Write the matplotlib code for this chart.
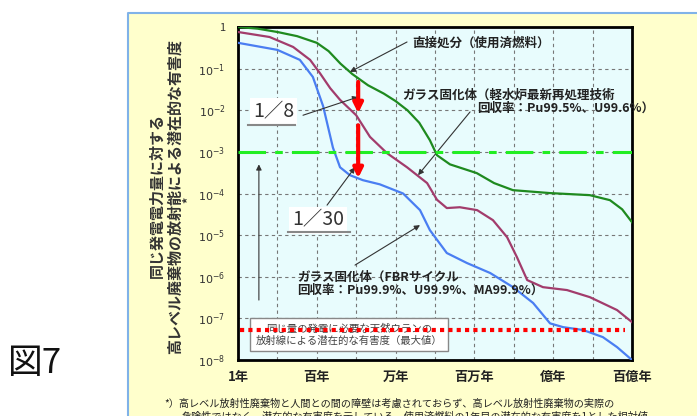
import numpy as np
import matplotlib.pyplot as plt
from matplotlib.lines import Line2D
from matplotlib.patches import Rectangle

plt.rcParams['font.family'] = ['Noto Sans CJK JP', 'DejaVu Sans']

# log10(years) / log10(relative potential harm)
direct_t = [0, 0.5, 1.0, 1.5, 2.0, 2.3, 2.6, 2.9, 3.3, 3.7, 4.0, 4.3, 4.6, 4.87, 5.05,
            5.38, 6.06, 6.5, 6.98, 7.92, 8.93, 9.44, 9.75, 10]
direct_h = [0, -0.04, -0.12, -0.22, -0.38, -0.58, -0.88, -1.13, -1.4, -1.6, -1.78, -2.0,
            -2.3, -2.72, -3.08, -3.3, -3.51, -3.75, -3.92, -3.99, -4.04, -4.16,
            -4.38, -4.69]

lwr_t = [0, 0.8, 1.4, 1.83, 2.08, 2.34, 2.59, 3.0, 3.35, 3.78, 4.29, 4.8, 5.05,
         5.3, 5.63, 6.07, 6.47, 6.83, 7.08, 7.34, 7.74, 8.35, 8.93, 9.62, 10]
lwr_h = [-0.12, -0.24, -0.48, -0.79, -1.11, -1.47, -1.75, -2.12, -2.64, -3.03,
         -3.37, -3.75, -4.15, -4.35, -4.33, -4.40, -4.64, -5.05, -5.53, -6.08,
         -6.25, -6.32, -6.49, -6.80, -7.09]

fbr_t = [0, 1.0, 1.57, 1.9, 2.16, 2.41, 2.59, 2.84, 3.17, 3.6, 4.19, 4.62, 4.87,
         5.3, 5.81, 6.4, 6.98, 7.49, 7.92, 8.25, 8.76, 9.26, 9.62, 10]
fbr_h = [-0.38, -0.55, -0.79, -1.2, -1.9, -2.9, -3.37, -3.56, -3.68, -3.78, -4.0,
         -4.4, -4.88, -5.43, -5.67, -5.91, -6.25, -6.63, -7.12, -7.21, -7.28,
         -7.45, -7.69, -8.0]

limit_level = 1e-3       # green dash-dot reference
uranium_level = 5.2e-8   # natural uranium (max)

x_exp = list(range(11))
x_labels = ['1年', '', '百年', '', '万年', '', '百万年', '', '億年', '', '百億年']
y_exp = list(range(-8, 1))
y_labels = ['$10^{%d}$' % e if e else '1' for e in y_exp]

W, H = 697, 416
fig = plt.figure(figsize=(W / 100, H / 100), dpi=100)
fig.patch.set_facecolor('white')


def fx(px):
    return px / W


def fy(py):
    return 1 - py / H


def p(e):
    return 10.0 ** np.asarray(e)


# yellow panel with blue border on top/left
fig.add_artist(Rectangle((fx(128), 0), 1 - fx(128), fy(13), transform=fig.transFigure,
                         facecolor='#ffffcc', edgecolor='none', zorder=0))
fig.add_artist(Line2D([fx(128), fx(128), 1], [0, fy(13), fy(13)],
                      transform=fig.transFigure, color='#80b2e8', lw=1.5))

ax = fig.add_axes([fx(238), fy(360), fx(632) - fx(238), fy(27) - fy(360)])
ax.set_facecolor('#e8fcfd')
ax.set_xscale('log')
ax.set_yscale('log')
ax.set_xlim(1, 1e10)
ax.set_ylim(1e-8, 1)
ax.set_xticks(p(x_exp), labels=x_labels)
ax.set_yticks(p(y_exp), labels=y_labels)
ax.xaxis.set_minor_locator(plt.NullLocator())
ax.yaxis.set_minor_locator(plt.NullLocator())
ax.tick_params(length=0)
ax.tick_params(axis='x', pad=7, labelsize=9.5, labelcolor='#222')
ax.tick_params(axis='y', pad=9, labelsize=8, labelcolor='#333')
for lab in ax.get_xticklabels():
    lab.set_fontweight('bold')
ax.grid(True, color='#777777', linestyle=(0, (3, 3)), lw=0.8)
ax.set_axisbelow(True)
for s in ax.spines.values():
    s.set_linewidth(2)

ax.plot(p(direct_t), p(direct_h), color='#1f8a1f', lw=1.6, zorder=3)
ax.plot(p(lwr_t), p(lwr_h), color='#a23c6c', lw=1.6, zorder=3)
ax.plot(p(fbr_t), p(fbr_h), color='#4a7ef2', lw=1.6, zorder=3)

ax.axhline(limit_level, color='#22ee22', lw=2.2, dashes=(9, 3, 2.5, 3), zorder=4)

# natural uranium box and red dotted level
ax.text(p(2.82), p(-7.39), '同じ量の発電に必要な天然ウランの\n放射線による潜在的な有害度（最大値）',
        ha='center', va='center', fontsize=7.5, color='#444', linespacing=1.2, zorder=5,
        bbox=dict(boxstyle='square,pad=0.55', fc='white', ec='#888', lw=1))
ax.plot([p(0.05), p(9.82)], [uranium_level] * 2, color='red', lw=3, dashes=(1, 1), zorder=6)

arrow = dict(arrowstyle='-|>', color='#333', lw=0.8, mutation_scale=8, shrinkA=0, shrinkB=0)
ax.annotate('', xy=(p(0.53), p(-3.3)), xytext=(p(0.53), p(-6.56)), arrowprops=arrow)

# red reduction arrows
red = dict(arrowstyle='-|>', color='red', lw=3, mutation_scale=14, shrinkA=0, shrinkB=0)
ax.annotate('', xy=(p(3.05), p(-2.07)), xytext=(p(3.05), p(-1.32)), arrowprops=red, zorder=5)
ax.annotate('', xy=(p(3.05), p(-3.63)), xytext=(p(3.05), p(-2.36)), arrowprops=red, zorder=5)

# curve labels
bold = dict(fontsize=9, fontweight='bold', color='#222', va='center', ha='left')
ax.text(p(4.42), p(-0.38), '直接処分（使用済燃料）', **bold)
ax.annotate('', xy=(p(2.84), p(-1.08)), xytext=(p(4.29), p(-0.36)), arrowprops=arrow)

ax.text(p(4.16), p(-1.63), 'ガラス固化体（軽水炉最新再処理技術', **bold)
ax.text(p(6.07), p(-1.95), '回収率：Pu99.5%、U99.6%）', **bold)
ax.annotate('', xy=(p(4.57), p(-3.56)), xytext=(p(5.89), p(-2.04)), arrowprops=arrow)

ax.text(p(1.5), p(-6.01), 'ガラス固化体（FBRサイクル', **bold)
ax.text(p(1.5), p(-6.32), '回収率：Pu99.9%、U99.9%、MA99.9%）', **bold)
ax.annotate('', xy=(p(4.62), p(-4.76)), xytext=(p(2.97), p(-5.72)), arrowprops=arrow)

# ratio labels
ratio = dict(fontsize=14, color='#333', ha='center', va='center', zorder=5,
             bbox=dict(boxstyle='square,pad=0.15', fc='white', ec='none'))
ax.text(p(0.91), p(-2.04), '1／8', **ratio)
ax.plot([p(0.25), p(1.45)], [p(-2.36)] * 2, color='#888', lw=1.5, zorder=6)
ax.annotate('', xy=(p(3.05), p(-1.68)), xytext=(p(1.65), p(-2.12)), arrowprops=arrow)

ax.text(p(2.03), p(-4.64), '1／30', **ratio)
ax.plot([p(1.27), p(2.84)], [p(-4.93)] * 2, color='#888', lw=1.5, zorder=6)
ax.annotate('', xy=(p(2.97), p(-3.37)), xytext=(p(2.26), p(-4.28)), arrowprops=arrow)

# y axis title
ylab = dict(rotation=90, ha='center', va='center', fontsize=10.8, fontweight='bold', color='#333')
fig.text(fx(157), fy(195), '同じ発電電力量に対する', **ylab)
fig.text(fx(175), fy(196), '高レベル廃棄物の放射能による潜在的な有害度', **ylab)
fig.text(fx(188), fy(200), '*', rotation=90, ha='center', va='center', fontsize=9,
         fontweight='bold', color='#333')

# footnote (second line runs off the bottom edge)
fig.text(fx(164), fy(404), '*）高レベル放射性廃棄物と人間との間の障壁は考慮されておらず、高レベル放射性廃棄物の実際の',
         fontsize=7.3, va='center', ha='left', color='#222')
fig.text(fx(182), fy(417), '危険性ではなく、潜在的な有害度を示している。使用済燃料の1年目の潜在的な有害度を1とした相対値',
         fontsize=7.3, va='center', ha='left', color='#222')

fig.text(fx(8), fy(364), '図7', fontsize=25, va='center', ha='left', color='#111')

fig.savefig('out.png', dpi=100)
